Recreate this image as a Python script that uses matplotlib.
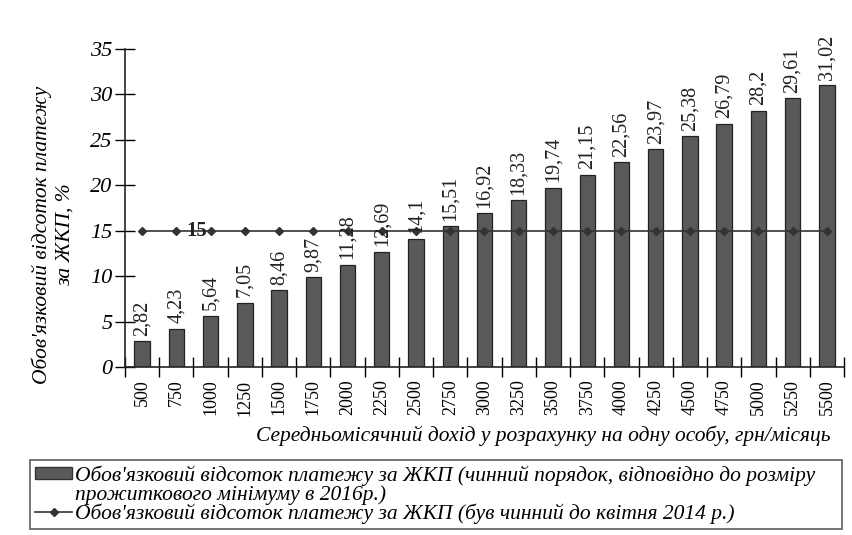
import matplotlib
matplotlib.use("Agg")
import matplotlib.pyplot as plt
from matplotlib.patches import Patch
from matplotlib.lines import Line2D
import numpy as np

plt.rcParams['font.family'] = ['Liberation Serif', 'DejaVu Serif']

# data
incomes = [500, 750, 1000, 1250, 1500, 1750, 2000, 2250, 2500, 2750, 3000,
           3250, 3500, 3750, 4000, 4250, 4500, 4750, 5000, 5250, 5500]
current_pct = [2.82, 4.23, 5.64, 7.05, 8.46, 9.87, 11.28, 12.69, 14.1, 15.51,
               16.92, 18.33, 19.74, 21.15, 22.56, 23.97, 25.38, 26.79, 28.2,
               29.61, 31.02]
old_pct = [15] * len(incomes)

bar_label_1 = "Обов'язковий відсоток платежу за ЖКП (чинний порядок, відповідно до розміру"
bar_label_2 = "прожиткового мінімуму в 2016р.)"
line_label = "Обов'язковий відсоток платежу за ЖКП (був чинний до квітня 2014 р.)"

fig = plt.figure(figsize=(8.53, 5.35), dpi=100)
ax = fig.add_axes([125 / 853, 1 - 367 / 535, (844 - 125) / 853, (367 - 49) / 535])

x = np.arange(len(incomes))
ax.bar(x, current_pct, width=0.45, color='#595959', edgecolor='#222222', linewidth=0.9, zorder=2)
ax.plot(x, old_pct, color='#333333', linewidth=1.2, marker='D', markersize=4,
        markerfacecolor='#333333', zorder=3)

for xi, v in zip(x, current_pct):
    txt = ('%g' % v).replace('.', ',')
    ax.text(xi, v + 0.6, txt, rotation=90, ha='center', va='bottom',
            fontsize=14.5, color='#222222', zorder=4)

ax.text(x[1] + 0.3, old_pct[1], '15', ha='left', va='center', fontsize=15,
        fontweight='bold', color='#222222', zorder=4)

ax.set_xlim(-0.5, len(incomes) - 0.5)
ax.set_ylim(0, 35)
ax.set_yticks(range(0, 36, 5))
ax.set_yticklabels([str(v) for v in range(0, 36, 5)], fontstyle='italic', fontsize=16)

ax.set_xticks(x)
ax.set_xticklabels([str(v) for v in incomes], rotation=90, fontsize=13)
ax.tick_params(axis='x', which='major', length=0, pad=9)
ax.set_xticks(np.arange(-0.5, len(incomes), 1), minor=True)
ax.tick_params(axis='x', which='minor', direction='inout', length=14, width=1)
ax.tick_params(axis='y', direction='inout', length=14, width=1, pad=2)

for side in ['top', 'right']:
    ax.spines[side].set_visible(False)
for side in ['left', 'bottom']:
    ax.spines[side].set_linewidth(1.2)
    ax.spines[side].set_color('#222222')

ax.set_xlabel('Середньомісячний дохід у розрахунку на одну особу, грн/місяць',
              fontstyle='italic', fontsize=15.5, va='center')
ax.xaxis.set_label_coords((543 - 125) / (844 - 125), -(436 - 367) / (367 - 49))
ax.set_ylabel("Обов'язковий відсоток платежу\nза ЖКП, %", fontstyle='italic',
              fontsize=15.5, linespacing=1.3, va='center')
ax.yaxis.set_label_coords(-(125 - 53) / (844 - 125), (367 - 235) / (367 - 49))

# three legend rows so the patch sits next to the first line only
handles = [Patch(facecolor='#595959', edgecolor='#333333'),
           Patch(facecolor='none', edgecolor='none'),
           Line2D([], [], color='#333333', marker='D', markersize=4, linewidth=1.2)]
leg = fig.legend(handles, [bar_label_1, bar_label_2, line_label], loc='upper left',
                 bbox_to_anchor=(30 / 853, 1 - 460 / 535, (842 - 30) / 853, 0.0),
                 mode='expand', fancybox=False, frameon=True, edgecolor='#333333',
                 prop={'style': 'italic', 'size': 15.5}, handlelength=1.7,
                 handleheight=0.5, handletextpad=0.15, borderpad=0.25,
                 labelspacing=-0.05, borderaxespad=0)
leg.get_frame().set_linewidth(1.2)

fig.savefig('out.png', dpi=100)
